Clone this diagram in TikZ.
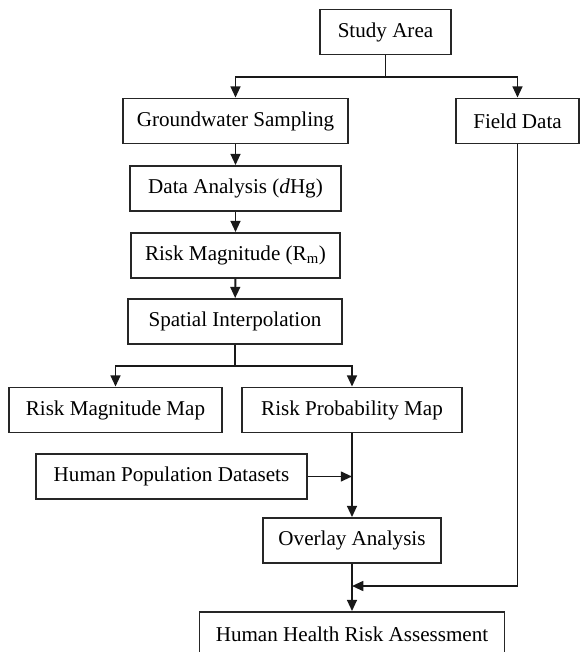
\documentclass[tikz,border=0pt]{standalone}
\usepackage{fontspec}
\setmainfont{Liberation Serif}
\usetikzlibrary{arrows.meta}

\begin{document}
\begin{tikzpicture}[x=0.025cm,y=-0.025cm,
  stepbox/.style={draw=black!85,line width=1.3pt,minimum height=1.125cm,inner sep=0pt,
    font=\fontsize{15}{18}\selectfont},
  flow/.style={draw=black!90,line width=1.4pt,-{Triangle[length=8pt,width=7pt]}},
  link/.style={draw=black!90,line width=1.4pt}]
\useasboundingbox (0,0) rectangle (580,652);
\clip (0,0) rectangle (580,652);

\node[stepbox,minimum width=3.275cm] (study) at (385.5,32) {Study Area};
\node[stepbox,minimum width=5.625cm] (sampling) at (235.5,121) {Groundwater Sampling};
\node[stepbox,minimum width=3.075cm] (field) at (517.5,121) {Field Data};
\node[stepbox,minimum width=5.275cm] (analysis) at (235.5,188.5) {Data Analysis (\textit{d}Hg)};
\node[stepbox,minimum width=5.225cm] (magnitude) at (235.5,255.5) {Risk Magnitude (R\textsubscript{m})};
\node[stepbox,minimum width=5.35cm] (interp) at (235,321.5) {Spatial Interpolation};
\node[stepbox,minimum width=5.325cm] (magmap) at (115.5,410) {Risk Magnitude Map};
\node[stepbox,minimum width=5.5cm] (probmap) at (352,410) {Risk Probability Map};
\node[stepbox,minimum width=6.775cm] (population) at (171.5,476.5) {Human Population Datasets};
\node[stepbox,minimum width=4.45cm] (overlay) at (352,540.5) {Overlay Analysis};
\node[stepbox,minimum width=7.625cm] (health) at (352,634.5) {Human Health Risk Assessment};

\coordinate (split1) at (385.5,77);
\coordinate (split2) at (235,366);
\coordinate (joinpop) at (352,476.5);
\coordinate (joinfield) at (352,586);

\draw[link] (study) -- (split1);
\draw[flow] (split1) -| (sampling);
\draw[flow] (split1) -| (field);

\draw[flow] (sampling) -- (analysis);
\draw[flow] (analysis) -- (magnitude);
\draw[flow] (magnitude) -- (interp);

\draw[link] (interp) -- (split2);
\draw[flow] (split2) -| (magmap);
\draw[flow] (split2) -| (probmap);

\draw[flow] (probmap) -- (overlay);
\draw[flow] (population) -- (joinpop);

\draw[flow] (overlay) -- (health);
\draw[flow] (field) |- (joinfield);

\end{tikzpicture}
\end{document}
